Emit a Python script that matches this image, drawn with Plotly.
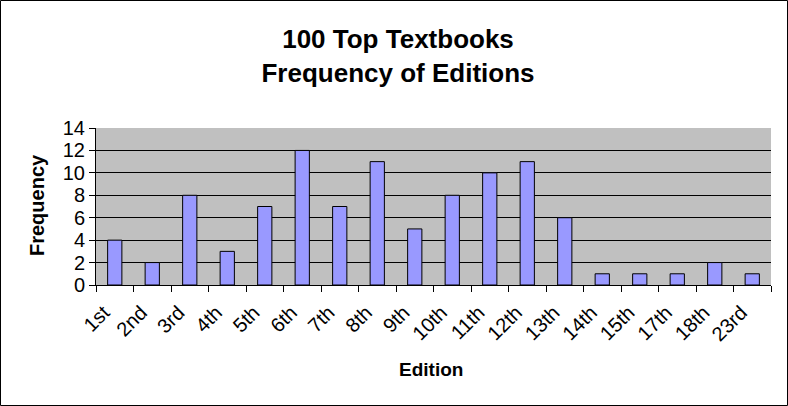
import plotly.graph_objects as go

editions = ["1st", "2nd", "3rd", "4th", "5th", "6th", "7th", "8th", "9th", "10th",
            "11th", "12th", "13th", "14th", "15th", "17th", "18th", "23rd"]
frequency = [4, 2, 8, 3, 7, 12, 7, 11, 5, 8, 10, 11, 6, 1, 1, 1, 2, 1]

W, H = 788, 406
L, R, T, B = 96, 17, 128, 121
pw, ph = W - L - R, H - T - B
FONT = "Liberation Sans, Arial, sans-serif"

fig = go.Figure(go.Bar(
    x=editions, y=frequency,
    marker=dict(color="#9999FF", line=dict(color="black", width=1)),
))

fig.update_layout(
    width=W, height=H,
    margin=dict(l=L, r=R, t=T, b=B, autoexpand=False),
    paper_bgcolor="white", plot_bgcolor="#C0C0C0",
    bargap=0.62, showlegend=False,
    font=dict(family=FONT, color="black"),
    title=dict(text="<b>100 Top Textbooks<br>Frequency of Editions</b>",
               x=398 / W, xanchor="center", xref="container",
               y=1 - 48 / H, yanchor="middle", yref="container",
               font=dict(size=26, family=FONT, color="black")),
    xaxis=dict(
        type="category", tickangle=-45, tickfont=dict(size=20),
        ticks="outside", tickson="boundaries", ticklen=6, tickcolor="black",
        ticklabelstandoff=7, ticklabelshift=-11,
        showline=True, linecolor="black", linewidth=1, showgrid=False,
    ),
    yaxis=dict(
        range=[0, 14], dtick=2, tickfont=dict(size=20),
        ticks="outside", ticklen=6, tickcolor="black",
        showline=True, linecolor="black", linewidth=1,
        gridcolor="black", gridwidth=1, zeroline=False,
    ),
    annotations=[
        dict(text="<b>Edition</b>", xref="paper", yref="paper",
             x=(431 - L) / pw, y=(H - B - 369) / ph, xanchor="center", yanchor="middle",
             showarrow=False, font=dict(size=19)),
        dict(text="<b>Frequency</b>", xref="paper", yref="paper", textangle=-90,
             x=(37 - L) / pw, y=(H - B - 205) / ph, xanchor="center", yanchor="middle",
             showarrow=False, font=dict(size=20)),
    ],
    shapes=[dict(type="rect", xref="paper", yref="paper",
                 x0=(-L + 0.5) / pw, x1=(pw + R - 0.5) / pw,
                 y0=(-B + 0.5) / ph, y1=(ph + T - 0.5) / ph,
                 line=dict(color="black", width=1), fillcolor="rgba(0,0,0,0)",
                 layer="below")],
)

fig.write_html("out.html", config={"displayModeBar": False},
               post_script="document.body.style.margin='0';document.body.style.overflow='hidden';")
